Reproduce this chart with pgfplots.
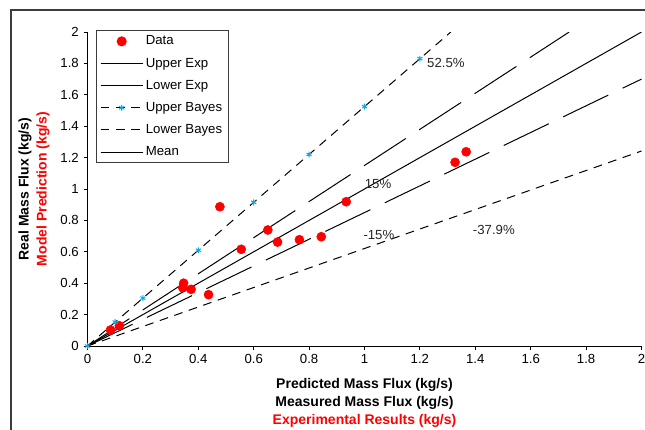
\documentclass[border=0pt]{standalone}
\usepackage{pgfplots}
\pgfplotsset{compat=1.18}
\usepackage{fontspec}
\setmainfont{Liberation Sans}
\definecolor{frame}{RGB}{60,60,60}
\pgfplotsset{
  markleg/.style={legend image code/.code={\draw[##1] plot coordinates {(15.75pt,0pt)};}},
  solidleg/.style={legend image code/.code={\draw[##1, solid] (0pt,0pt) -- (31.5pt,0pt);}},
  lineleg/.style={legend image code/.code={\draw[##1] (0pt,0pt) -- (31.5pt,0pt);}},
  bayesleg/.style={legend image code/.code={\draw[##1, mark indices={2}] plot coordinates {(0pt,0pt) (15.75pt,0pt) (31.5pt,0pt)};}},
}
\begin{document}
\begin{tikzpicture}
\useasboundingbox (0,0) rectangle (483.75pt,321.75pt);
\clip (0,0) rectangle (483.75pt,321.75pt);
\draw[line width=1.1pt, frame] (8.25pt,314.25pt) rectangle (520pt,-20pt);
\begin{axis}[
  at={(65.625pt,62.25pt)}, anchor=south west,
  width=415.5pt, height=235.5pt, scale only axis,
  xmin=0, xmax=2, ymin=0, ymax=2,
  axis x line*=bottom, axis y line*=left,
  axis line style={line width=0.75pt, black},
  xtick={0,0.2,0.4,0.6,0.8,1,1.2,1.4,1.6,1.8,2},
  ytick={0,0.2,0.4,0.6,0.8,1,1.2,1.4,1.6,1.8,2},
  tick align=outside, major tick length=3pt,
  tick style={line width=0.75pt, black},
  /pgf/number format/assume math mode=true,
  tick label style={font=\fontsize{9.9}{11}\selectfont},
  legend cell align=left,
  legend style={at={(0.0148,1.0064)}, anchor=north west,
    draw=frame, line width=0.75pt, fill=white,
    font=\fontsize{9.9}{11}\selectfont,
    inner xsep=3pt, inner ysep=2pt, row sep=4.3pt},
]
% Data
\addplot[only marks, mark=*, mark size=3.4pt, mark options={draw=red, fill=red}, markleg]
coordinates {
(0.083,0.102) (0.115,0.129) (0.347,0.400) (0.344,0.371) (0.374,0.361)
(0.437,0.327) (0.478,0.887) (0.555,0.616) (0.651,0.739) (0.686,0.662)
(0.765,0.677) (0.844,0.696) (0.934,0.919) (1.327,1.170) (1.367,1.237)
};
\addlegendentry{Data}
% Upper Exp
\addplot[black, line width=0.75pt, dash pattern=on 37.5pt off 12pt, mark=none, solidleg]
coordinates {(0,0) (1.739,2)};
\addlegendentry{Upper Exp}
% Lower Exp
\addplot[black, line width=0.75pt, dash pattern=on 37.5pt off 12pt, mark=none, solidleg]
coordinates {(0,0) (2,1.7)};
\addlegendentry{Lower Exp}
% Upper Bayes
\addplot[black, line width=0.75pt, dash pattern=on 6.5pt off 5pt,
  mark=asterisk, mark size=2.2pt, mark options={cyan, solid, line width=0.75pt},
  mark indices={1,2,3,4,5,6,7,8}, bayesleg]
coordinates {(0,0) (0.1,0.1525) (0.2,0.305) (0.4,0.61) (0.6,0.915) (0.8,1.22) (1.0,1.525) (1.2,1.83) (1.3115,2)};
\addlegendentry{Upper Bayes}
% Lower Bayes
\addplot[black, line width=0.75pt, dash pattern=on 6.5pt off 5pt, mark=none, lineleg]
coordinates {(0,0) (2,1.242)};
\addlegendentry{Lower Bayes}
% Mean
\addplot[black, line width=0.75pt, mark=none, lineleg]
coordinates {(0,0) (2,2)};
\addlegendentry{Mean}
\node[font=\fontsize{9.9}{11}\selectfont, text=black!85] at (axis cs:1.294,1.80) {52.5\%};
\node[font=\fontsize{9.9}{11}\selectfont, text=black!85] at (axis cs:1.049,1.032) {15\%};
\node[font=\fontsize{9.9}{11}\selectfont, text=black!85] at (axis cs:1.052,0.707) {-15\%};
\node[font=\fontsize{9.9}{11}\selectfont, text=black!85] at (axis cs:1.467,0.739) {-37.9\%};
\end{axis}
\node[font=\bfseries\fontsize{10.5}{11}\selectfont, rotate=90] at (18.75pt,180pt) {Real Mass Flux (kg/s)};
\node[font=\bfseries\fontsize{10.5}{11}\selectfont, rotate=90, text=red] at (32.25pt,180pt) {Model Prediction (kg/s)};
\node[font=\bfseries\fontsize{10.5}{11}\selectfont] at (273.4pt,33pt) {Predicted Mass Flux (kg/s)};
\node[font=\bfseries\fontsize{10.5}{11}\selectfont] at (273.4pt,19.7pt) {Measured Mass Flux (kg/s)};
\node[font=\bfseries\fontsize{10.5}{11}\selectfont, text=red] at (273.4pt,6pt) {Experimental Results (kg/s)};
\end{tikzpicture}
\end{document}
